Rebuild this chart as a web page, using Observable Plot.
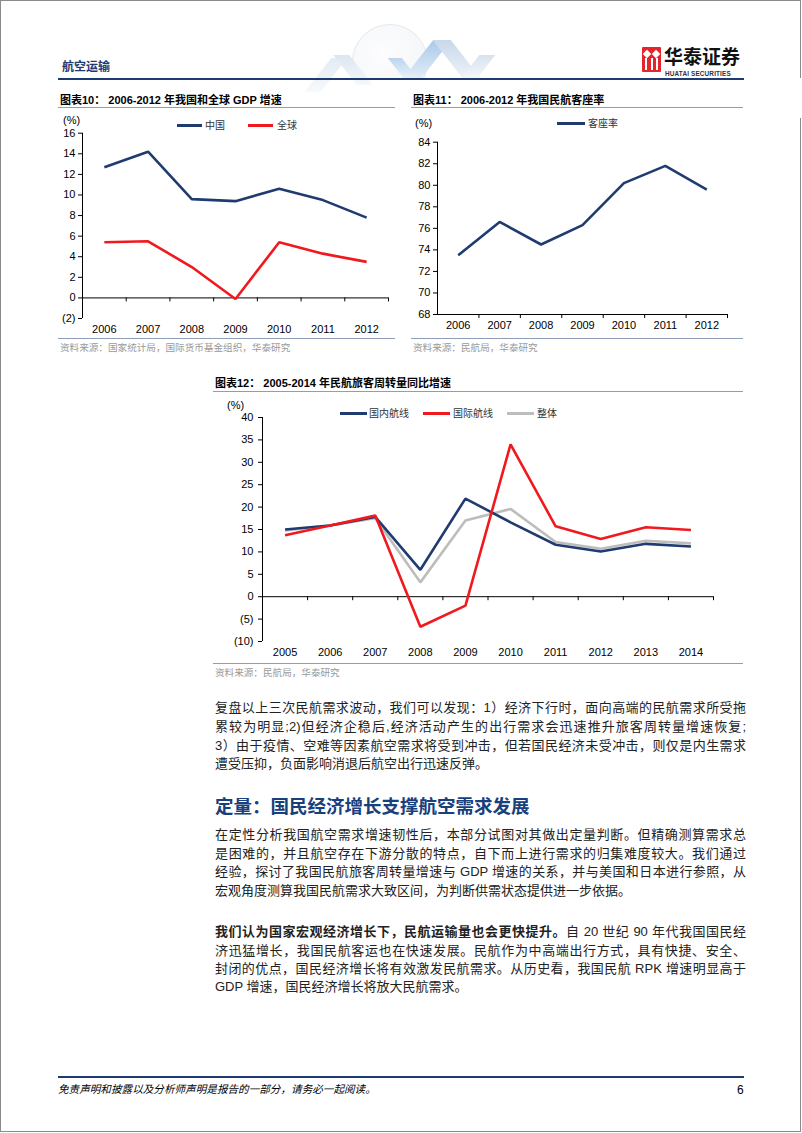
<!DOCTYPE html>
<html><head><meta charset="utf-8">
<script src="https://cdn.jsdelivr.net/npm/d3@7"></script>
<script src="https://cdn.jsdelivr.net/npm/@observablehq/plot@0.6"></script>
<style>
html,body{margin:0;padding:0;background:#fff;}
#page{position:relative;width:802px;height:1133px;overflow:hidden;background:#fff;font-family:"Liberation Sans","Noto Sans CJK SC",sans-serif;color:#000;}
.abs{position:absolute;white-space:nowrap;}
.rule{position:absolute;height:1px;background:#8d9dba;}
.ttl{position:absolute;white-space:nowrap;font-size:11px;font-weight:bold;line-height:14px;}
.src{position:absolute;white-space:nowrap;font-size:9.6px;color:#9a9a9a;line-height:12px;font-family:"Noto Sans CJK SC",sans-serif;}
.pct{position:absolute;font-size:11px;line-height:10px;}
.leg{position:absolute;font-size:10px;line-height:12px;color:#333;font-family:"Noto Sans CJK SC",sans-serif;white-space:nowrap;}
.legline{position:absolute;height:2.5px;}
.ln{position:absolute;left:215px;width:531px;height:19px;line-height:19px;font-size:13px;color:#222;text-align:justify;text-align-last:justify;}
.ln.last{text-align-last:left;}
.chart{position:absolute;}
</style></head>
<body><div id="page">
<div class="abs" style="left:0;top:0;width:799px;height:1130px;border:1px solid #8a8a8a;"></div>

<!-- header decoration -->
<div class="abs" style="left:352px;top:24px;width:74px;height:74px;border-radius:50%;border:1px solid #dde3ea;background:radial-gradient(circle at 40% 40%,#fdfdfe,#eef2f7);opacity:0.8;"></div>
<div class="abs" style="left:300px;top:78px;width:520px;height:40px;background:#fff;"></div>
<div class="abs" style="left:318px;top:58px;width:16px;height:34px;background:linear-gradient(#e3ebf4,#f7f9fc);transform:skewX(-38deg);"></div>
<div class="abs" style="left:345px;top:55px;width:16px;height:30px;background:linear-gradient(#dbe6f2,#f5f8fb);transform:skewX(38deg);"></div>
<div class="abs" style="left:418px;top:40px;width:18px;height:39px;background:linear-gradient(#a9c9e9,#e4eef8);transform:skewX(-38deg);"></div>
<div class="abs" style="left:448px;top:40px;width:18px;height:39px;background:linear-gradient(#c8d8ea,#eef3f9);transform:skewX(38deg);"></div>
<div class="abs" style="left:470px;top:55px;width:16px;height:24px;background:linear-gradient(#d8e2ee,#f4f7fb);transform:skewX(-38deg);"></div>
<div class="abs" style="left:396px;top:58px;width:14px;height:21px;background:linear-gradient(#bcd6ee,#eaf2fa);transform:skewX(38deg);"></div>

<div class="abs" style="left:62px;top:58px;font-size:12px;font-weight:bold;color:#1f3b73;line-height:16px;font-family:'Noto Sans CJK SC',sans-serif;">航空运输</div>

<!-- logo -->
<div class="abs" style="left:642px;top:47px;width:19px;height:25px;background:#e2262b;border-radius:1px;">
  <div class="abs" style="left:3px;top:11px;width:2px;height:12px;background:#fff;"></div>
  <div class="abs" style="left:8.5px;top:11px;width:2px;height:12px;background:#fff;"></div>
  <div class="abs" style="left:14px;top:11px;width:2px;height:12px;background:#fff;"></div>
  <div class="abs" style="left:2px;top:4px;width:6px;height:6px;background:#fff;transform:rotate(45deg);"></div>
  <div class="abs" style="left:11px;top:4px;width:6px;height:6px;background:#fff;transform:rotate(45deg);"></div>
</div>
<div class="abs" style="left:664px;top:46px;font-size:19px;font-weight:bold;line-height:19px;font-family:'Noto Sans CJK SC',sans-serif;color:#111;">华泰证券</div>
<div class="abs" style="left:665px;top:70px;font-size:6.4px;font-weight:bold;line-height:7px;color:#333;letter-spacing:0.15px;">HUATAI SECURITIES</div>
<div class="abs" style="left:58px;top:78px;width:686px;height:2px;background:#1d3b70;"></div>

<!-- chart 10 frame -->
<div class="ttl" style="left:60px;top:93px;">图表10：&nbsp;2006-2012 年我国和全球 GDP 增速</div>
<div class="rule" style="left:58px;top:107px;width:337px;"></div>
<div class="pct" style="left:63px;top:115px;">(%)</div>
<div class="legline" style="left:177px;top:124px;width:25px;background:#1f3b70;"></div>
<div class="leg" style="left:205px;top:119px;">中国</div>
<div class="legline" style="left:248px;top:124px;width:25px;background:#f0191e;"></div>
<div class="leg" style="left:277px;top:119px;">全球</div>
<div class="chart" id="c10" style="left:40px;top:115px;"></div>
<div class="rule" style="left:58px;top:338px;width:337px;"></div>
<div class="src" style="left:60px;top:341px;">资料来源：国家统计局，国际货币基金组织，华泰研究</div>

<!-- chart 11 frame -->
<div class="ttl" style="left:413px;top:93px;">图表11：&nbsp;2006-2012 年我国民航客座率</div>
<div class="rule" style="left:411px;top:107px;width:332px;"></div>
<div class="pct" style="left:415px;top:118px;">(%)</div>
<div class="legline" style="left:557px;top:122px;width:28px;background:#1f3b70;"></div>
<div class="leg" style="left:588px;top:117px;">客座率</div>
<div class="chart" id="c11" style="left:400px;top:120px;"></div>
<div class="rule" style="left:411px;top:338px;width:332px;"></div>
<div class="src" style="left:413px;top:341px;">资料来源：民航局，华泰研究</div>

<!-- chart 12 frame -->
<div class="ttl" style="left:215px;top:376px;">图表12：&nbsp;2005-2014 年民航旅客周转量同比增速</div>
<div class="rule" style="left:213px;top:391px;width:530px;"></div>
<div class="pct" style="left:227px;top:400px;">(%)</div>
<div class="legline" style="left:340px;top:412px;width:27px;background:#1f3b70;"></div>
<div class="leg" style="left:369px;top:407px;">国内航线</div>
<div class="legline" style="left:423px;top:412px;width:27px;background:#f0191e;"></div>
<div class="leg" style="left:453px;top:407px;">国际航线</div>
<div class="legline" style="left:507px;top:412px;width:27px;background:#bdbdbd;"></div>
<div class="leg" style="left:537px;top:407px;">整体</div>
<div class="chart" id="c12" style="left:200px;top:400px;"></div>
<div class="rule" style="left:213px;top:663px;width:530px;"></div>
<div class="src" style="left:215px;top:666px;">资料来源：民航局，华泰研究</div>

<!-- text -->
<div class="ln" style="top:698px;">复盘以上三次民航需求波动，我们可以发现：1）经济下行时，面向高端的民航需求所受拖</div>
<div class="ln" style="top:717px;">累较为明显;2)但经济企稳后,经济活动产生的出行需求会迅速推升旅客周转量增速恢复;</div>
<div class="ln" style="top:736px;">3）由于疫情、空难等因素航空需求将受到冲击，但若国民经济未受冲击，则仅是内生需求</div>
<div class="ln last" style="top:754px;">遭受压抑，负面影响消退后航空出行迅速反弹。</div>

<div class="abs" style="left:215px;top:792px;font-size:18.5px;font-weight:bold;color:#17407d;line-height:26px;font-family:'Noto Sans CJK SC',sans-serif;">定量：国民经济增长支撑航空需求发展</div>

<div class="ln" style="top:825px;">在定性分析我国航空需求增速韧性后，本部分试图对其做出定量判断。但精确测算需求总</div>
<div class="ln" style="top:844px;">是困难的，并且航空存在下游分散的特点，自下而上进行需求的归集难度较大。我们通过</div>
<div class="ln" style="top:862px;">经验，探讨了我国民航旅客周转量增速与 GDP 增速的关系，并与美国和日本进行参照，从</div>
<div class="ln last" style="top:881px;">宏观角度测算我国民航需求大致区间，为判断供需状态提供进一步依据。</div>

<div class="ln" style="top:922px;"><b>我们认为国家宏观经济增长下，民航运输量也会更快提升。</b>自 20 世纪 90 年代我国国民经</div>
<div class="ln" style="top:941px;">济迅猛增长，我国民航客运也在快速发展。民航作为中高端出行方式，具有快捷、安全、</div>
<div class="ln" style="top:959px;">封闭的优点，国民经济增长将有效激发民航需求。从历史看，我国民航 RPK 增速明显高于</div>
<div class="ln last" style="top:977px;">GDP 增速，国民经济增长将放大民航需求。</div>

<!-- footer -->
<div class="abs" style="left:58px;top:1076px;width:686px;height:2px;background:#1d3b70;"></div>
<div class="abs" style="left:58px;top:1082px;font-size:10.6px;font-style:italic;line-height:14px;font-family:'Noto Sans CJK SC',sans-serif;">免责声明和披露以及分析师声明是报告的一部分，请务必一起阅读。</div>
<div class="abs" style="left:737px;top:1083px;font-size:12px;line-height:14px;">6</div>
</div>

<script>
// ---- Data ----
const gdpYears = [2006, 2007, 2008, 2009, 2010, 2011, 2012];
const gdpChina = [12.7, 14.2, 9.6, 9.4, 10.6, 9.5, 7.8];
const gdpWorld = [5.4, 5.5, 3.0, -0.1, 5.4, 4.3, 3.5];
const gdpDomain = [-2, 16];
const gdpTicks = [-2, 0, 2, 4, 6, 8, 10, 12, 14, 16];

const lfYears = [2006, 2007, 2008, 2009, 2010, 2011, 2012];
const lfValues = [73.5, 76.6, 74.5, 76.3, 80.2, 81.8, 79.6];
const lfDomain = [68, 84];
const lfTicks = [68, 70, 72, 74, 76, 78, 80, 82, 84];

const rpkYears = [2005, 2006, 2007, 2008, 2009, 2010, 2011, 2012, 2013, 2014];
const rpkDomestic = [15.0, 15.9, 17.8, 6.0, 21.9, 16.6, 11.6, 10.1, 11.8, 11.2];
const rpkIntl = [13.7, 15.9, 18.1, -6.7, -2.0, 34.0, 15.7, 12.9, 15.5, 14.9];
const rpkTotal = [14.8, 15.9, 17.5, 3.2, 17.0, 19.6, 12.2, 10.7, 12.5, 11.9];
const rpkDomain = [-10, 40];
const rpkTicks = [-10, -5, 0, 5, 10, 15, 20, 25, 30, 35, 40];

const NAVY = "#1f3b70", RED = "#f0191e", GREY = "#bdbdbd";
const fmtNeg = v => v < 0 ? `(${-v})` : String(v);

function drawChart(el, cfg) {
  const {years, series, yDomain, yTicks, width, height, ml, mr, mt, mb, base, yPad} = cfg;
  const xDomain = [years[0] - 0.5, years[years.length - 1] + 0.5];
  const plotH = height - mt - mb;
  const tickLen = 4 * (yDomain[1] - yDomain[0]) / plotH;
  const bounds = years.map(y => y + 0.5);
  const marks = [
    Plot.ruleX([xDomain[0]], {y1: yDomain[0], y2: yDomain[1], stroke: "#000", strokeWidth: 1}),
    Plot.ruleY([base], {x1: xDomain[0], x2: xDomain[1], stroke: "#000", strokeWidth: 1}),
    Plot.ruleX(bounds, {y1: base, y2: base - tickLen, stroke: "#000", strokeWidth: 1})
  ];
  for (const s of series) {
    const rows = years.map((y, i) => ({year: y, value: s.values[i]}));
    marks.push(Plot.line(rows, {x: "year", y: "value", stroke: s.color, strokeWidth: 2.6, strokeLinejoin: "miter", strokeLinecap: "butt"}));
  }
  const svg = Plot.plot({
    width, height,
    marginLeft: ml, marginRight: mr, marginTop: mt, marginBottom: mb,
    style: {fontFamily: "'Liberation Sans', Arial, sans-serif", fontSize: "11px", color: "#000", background: "transparent", overflow: "visible"},
    x: {type: "linear", domain: xDomain, ticks: years, tickSize: 0, tickPadding: 7, tickFormat: d => String(d), label: null},
    y: {type: "linear", domain: yDomain, ticks: yTicks, tickSize: 4, tickPadding: yPad, tickFormat: fmtNeg, label: null},
    marks
  });
  document.getElementById(el).appendChild(svg);
}

drawChart("c10", {
  years: gdpYears,
  series: [{values: gdpChina, color: NAVY}, {values: gdpWorld, color: RED}],
  yDomain: gdpDomain, yTicks: gdpTicks,
  width: 360, height: 222, ml: 42, mr: 12, mt: 17.7, mb: 19, base: 0, yPad: 3
});
drawChart("c11", {
  years: lfYears,
  series: [{values: lfValues, color: NAVY}],
  yDomain: lfDomain, yTicks: lfTicks,
  width: 340, height: 217, ml: 37, mr: 13, mt: 21.7, mb: 23, base: lfDomain[0], yPad: 3
});
drawChart("c12", {
  years: rpkYears,
  series: [{values: rpkTotal, color: GREY}, {values: rpkDomestic, color: NAVY}, {values: rpkIntl, color: RED}],
  yDomain: rpkDomain, yTicks: rpkTicks,
  width: 530, height: 262, ml: 62, mr: 17, mt: 17, mb: 21, base: 0, yPad: 5
});
</script>
</body></html>
